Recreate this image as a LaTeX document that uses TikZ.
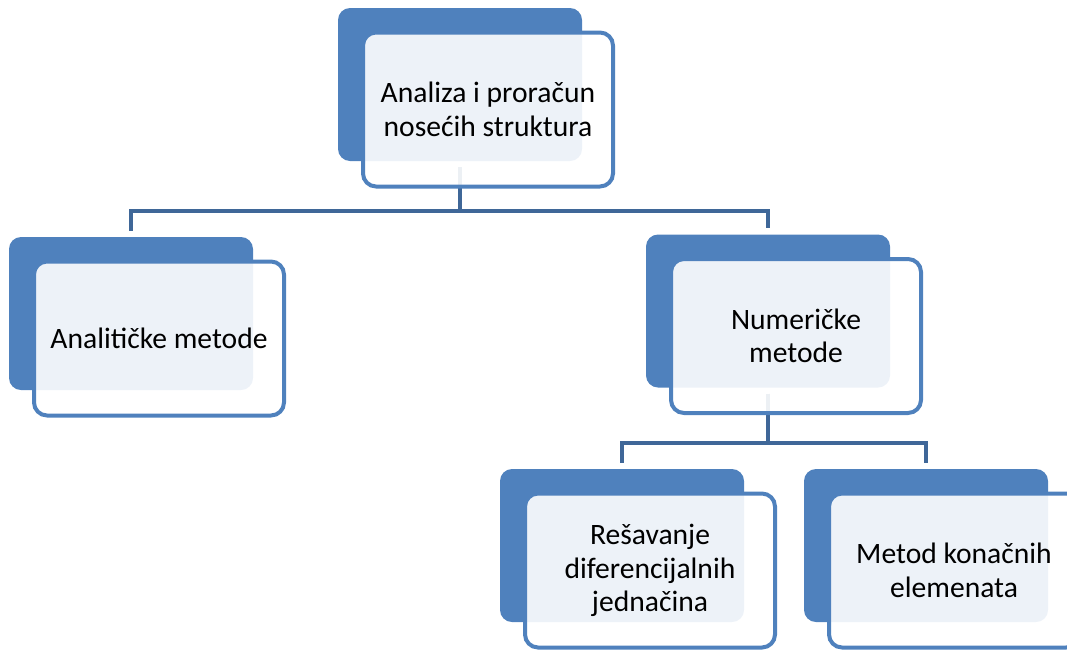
\documentclass[tikz,border=0pt]{standalone}
\usepackage{fontspec}
\setmainfont{Carlito}
\definecolor{boxblue}{RGB}{79,129,189}
\definecolor{linkblue}{RGB}{63,103,152}
\tikzset{
  backbox/.style={fill=boxblue, rounded corners=12pt, minimum width=244pt,
    minimum height=153pt, inner sep=0pt},
  frontbox/.style={draw=boxblue, line width=4pt, fill=white, fill opacity=0.9,
    text opacity=1, rounded corners=13pt, minimum width=250pt,
    minimum height=154pt, inner sep=0pt, align=center,
    font=\fontsize{29.6}{33.5}\selectfont, xshift=28pt, yshift=-25pt},
  link/.style={draw=linkblue, line width=4pt, shorten <=6pt, shorten >=6pt}
}
\begin{document}
\begin{tikzpicture}[x=1pt, y=-1pt]
    \useasboundingbox (0,0) rectangle (1067,651);

    % Back boxes
    \node[backbox] (root-bg) at (460,84.5) {};
    \node[backbox] (analytic-bg) at (131,313.5) {};
    \node[backbox] (numeric-bg) at (768,311) {};
    \node[backbox] (diffeq-bg) at (622,545.5) {};
    \node[backbox] (fem-bg) at (926,545.5) {};

    % Links
    \draw[link] (root-bg.south) -- ++(0,50) -| (analytic-bg.north);
    \draw[link] (root-bg.south) -- ++(0,50) -| (numeric-bg.north);
    \draw[link] (numeric-bg.south) -- ++(0,55) -| (diffeq-bg.north);
    \draw[link] (numeric-bg.south) -- ++(0,55) -| (fem-bg.north);

    % Front boxes
    \node[frontbox] (root) at (root-bg) {Analiza i proračun\\nosećih struktura};
    \node[frontbox] (analytic) at (analytic-bg) {Analitičke metode};
    \node[frontbox] (numeric) at (numeric-bg) {Numeričke\\metode};
    \node[frontbox] (diffeq) at (diffeq-bg) {Rešavanje\\diferencijalnih\\jednačina};
    \node[frontbox] (fem) at (fem-bg) {Metod konačnih\\elemenata};
\end{tikzpicture}
\end{document}
